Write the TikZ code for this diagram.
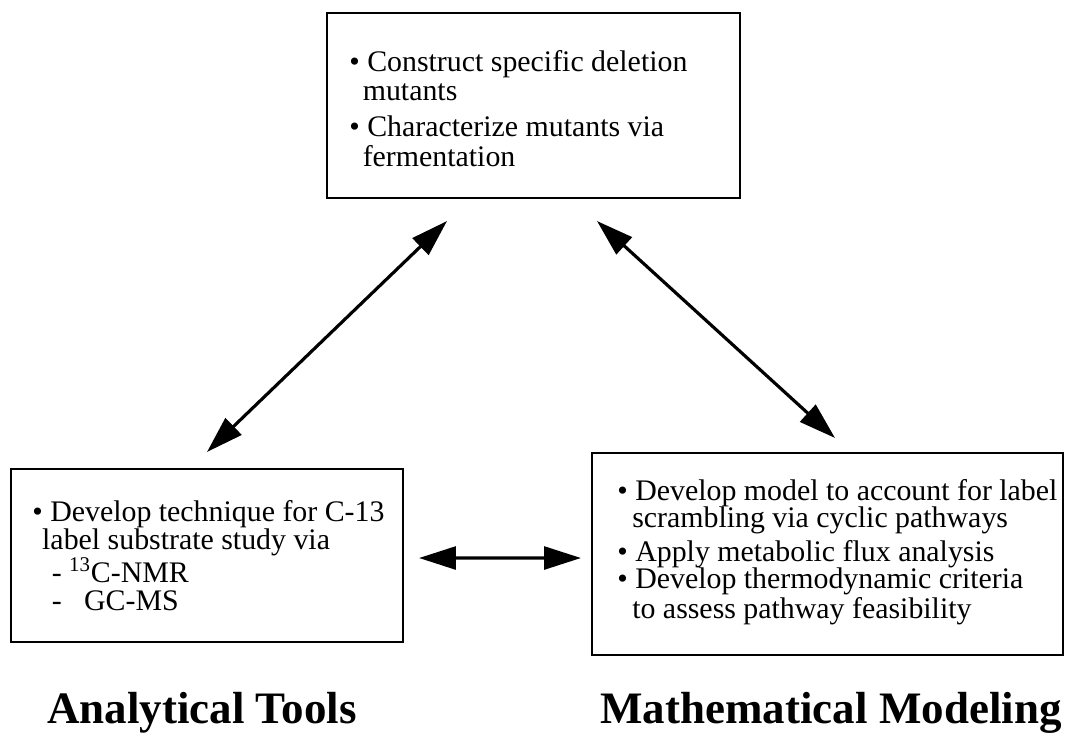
\documentclass[tikz,border=0pt]{standalone}
\usepackage{fontspec}
\setmainfont{Liberation Serif}
\usetikzlibrary{arrows.meta,calc}
\tikzset{
	panel/.style={draw, line width=1.2pt, inner sep=0pt},
	items/.style={align=left, inner sep=0pt, anchor=west,
		font=\fontsize{17}{16.5}\selectfont},
	heading/.style={anchor=base, inner sep=0pt,
		font=\fontsize{25.6}{30}\selectfont\bfseries},
	link/.style={line width=1.8pt,
		{Triangle[length=21pt,width=13pt]}-{Triangle[length=21pt,width=13pt]}}
}
\begin{document}
\begin{tikzpicture}[x=0.02cm,y=-0.02cm]
			\useasboundingbox (0,0) rectangle (1068,735);
			% the three boxes
			\node[panel, minimum width=8.26cm, minimum height=3.70cm] (mut) at (533.5,105.5) {};
			\node[panel, minimum width=7.84cm, minimum height=3.46cm] (tools) at (207,555.5) {};
			\node[panel, minimum width=9.42cm, minimum height=4.04cm] (model) at (827.5,554) {};
			\node[items, font=\fontsize{17}{17}\selectfont] (mutText) at ($(mut.west)+(23,3)$) {\textbullet\ Construct specific deletion\\
				\hspace*{0.45em}mutants\\[3.5pt]
				\textbullet\ Characterize mutants via\\
				\hspace*{0.45em}fermentation};
			\node[items, font=\fontsize{17}{16}\selectfont] (toolsText) at ($(tools.west)+(22,0)$) {\textbullet\ Develop technique for C-13\\
				\hspace*{0.33em}label substrate study via\\
				\hspace*{0.65em}-\ \textsuperscript{13}C-NMR\\
				\hspace*{0.65em}-\ \ \ GC-MS};
			\node[items, font=\fontsize{17}{15.6}\selectfont] (modelText) at ($(model.west)+(26,-2)$) {\textbullet\ Develop model to account for label\\
				\hspace*{0.5em}scrambling via cyclic pathways\\[2.5pt]
				\textbullet\ Apply metabolic flux analysis\\
				\textbullet\ Develop thermodynamic criteria\\
				\hspace*{0.5em}to assess pathway feasibility};
			% arrows
			\draw[link] ($(tools.north)+(0,-16)$) -- ($(mut.south)+(-86.5,22)$);
			\draw[link] ($(mut.south)+(63.5,22)$) -- ($(model.north)+(7.5,-14)$);
			\draw[link] ($(tools.east)+(15,2.5)$) -- ($(model.west)+(-10,4)$);
			% headings
			\node[heading] (toolsHead) at (202,723) {Analytical Tools};
			\node[heading] (modelHead) at (831,723) {Mathematical Modeling};
		\end{tikzpicture}
\end{document}
